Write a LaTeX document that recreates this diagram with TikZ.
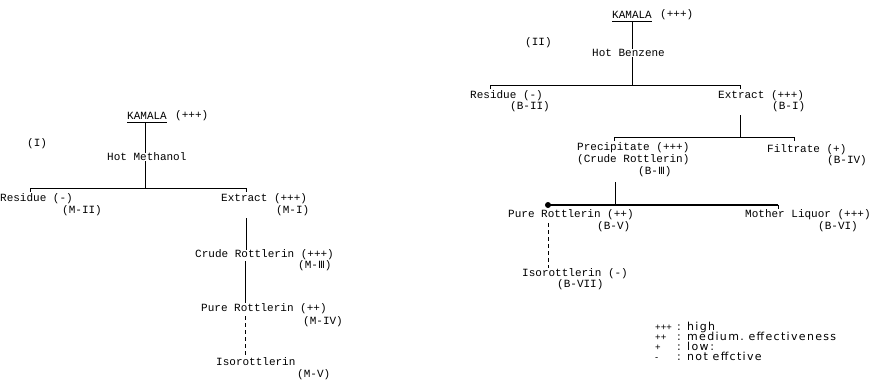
\documentclass[tikz,border=0pt]{standalone}
\usepackage{fontspec}
\setmonofont{Liberation Mono}
\newfontfamily\legf[LetterSpace=12]{DejaVu Sans}
\newfontfamily\symf{Liberation Sans}
\newfontfamily\numf{DejaVu Sans}
\newcommand{\rmIII}{{\numf\fontsize{10}{10}\selectfont Ⅲ}}
\begin{document}
\begin{tikzpicture}[x=1pt,y=-1pt,
  lbl/.style={anchor=west,inner sep=0pt,font=\ttfamily\fontsize{11}{11}\selectfont},
  leg/.style={anchor=west,inner sep=0pt,text height=6pt,text depth=1pt,font=\legf\fontsize{11}{11}\selectfont},
  legs/.style={anchor=west,inner sep=0pt,text height=6pt,text depth=1pt,font=\symf\fontsize{9.5}{9.5}\selectfont},
  conn/.style={line width=0.8pt},
  dconn/.style={line width=0.8pt,dash pattern=on 4pt off 3pt}]
\useasboundingbox (0,0) rectangle (873,386);
% ---------- (I) ----------
\node[lbl,inner ysep=3pt] (k1) at (127,116) {KAMALA};
\node[lbl] (k1p) at (175,116) {(+++)};
\node[lbl] (n1) at (27,144) {(I)};
\node[lbl] (hm) at (107,157) {Hot Methanol};
\node[lbl] (res1) at (0,199) {Residue (-)};
\node[lbl] (mii) at (62,211) {(M-II)};
\node[lbl] (ext1) at (221,199) {Extract (+++)};
\node[lbl] (mi) at (276,211) {(M-I)};
\node[lbl] (cr1) at (195,255) {Crude Rottlerin (+++)};
\node[lbl] (miii) at (298,266) {(M-\rmIII)};
\node[lbl] (pr1) at (201,309) {Pure Rottlerin (++)};
\node[lbl] (miv) at (303,322) {(M-IV)};
\node[lbl] (iso1) at (216,362) {Isorottlerin};
\node[lbl] (mv) at (297,375) {(M-V)};
\coordinate (b1l) at (30,188);
\coordinate (b1r) at (246,188);
\coordinate (b1m) at (145,188);
\draw[conn] (k1.south west) -- (k1.south east);
\draw[conn] (k1.south -| b1m) -- (hm.north -| b1m);
\draw[conn] (hm.south -| b1m) -- (b1m);
\draw[conn] ([yshift=-4pt]b1l) -- (b1l) -- (b1r) -- ([yshift=-4pt]b1r);
\draw[conn] ([yshift=-2pt]mi.south -| b1r) -- (cr1.north -| b1r);
\draw[conn] ([yshift=-1pt]cr1.south -| 245,0) -- ([yshift=1pt]pr1.north -| 245,0);
\draw[dconn] ([yshift=-2pt]pr1.south -| 245,0) -- ([yshift=1pt]iso1.north -| 245,0);
% ---------- (II) ----------
\node[lbl,inner ysep=3pt] (k2) at (612,15) {KAMALA};
\node[lbl] (k2p) at (660,15) {(+++)};
\node[lbl] (n2) at (525,43) {(II)};
\node[lbl] (hb) at (592,53) {Hot Benzene};
\node[lbl] (res2) at (470,96) {Residue (-)};
\node[lbl] (bii) at (510,107) {(B-II)};
\node[lbl] (ext2) at (718,96) {Extract (+++)};
\node[lbl] (bi) at (772,107) {(B-I)};
\node[lbl] (pre) at (577,148) {Precipitate (+++)};
\node[lbl] (crr) at (577,160) {(Crude Rottlerin)};
\node[lbl] (biii) at (638,172) {(B-\rmIII)};
\node[lbl] (fil) at (767,150) {Filtrate (+)};
\node[lbl] (biv) at (827,161) {(B-IV)};
\node[lbl] (pr2) at (508,215) {Pure Rottlerin (++)};
\node[lbl] (bv) at (597,227) {(B-V)};
\node[lbl] (ml) at (745,215) {Mother Liquor (+++)};
\node[lbl] (bvi) at (818,227) {(B-VI)};
\node[lbl] (iso2) at (522,274) {Isorottlerin (-)};
\node[lbl] (bvii) at (557,285) {(B-VII)};
\coordinate (b2l) at (490,85);
\coordinate (b2r) at (740,85);
\coordinate (b2m) at (632,85);
\coordinate (b3l) at (614,137);
\coordinate (b3r) at (794,137);
\coordinate (b3m) at (740,137);
\coordinate (b4l) at (548,205);
\coordinate (b4r) at (778,205);
\coordinate (b4m) at (615,205);
\draw[conn] (k2.south west) -- (k2.south east);
\draw[conn] (k2.south -| b2m) -- (hb.north -| b2m);
\draw[conn] (hb.south -| b2m) -- (b2m);
\draw[conn] ([yshift=-4pt]b2l) -- (b2l) -- (b2r) -- ([yshift=-4pt]b2r);
\draw[conn] ([yshift=-3pt]bi.south -| b3m) -- (b3m);
\draw[conn] ([yshift=-4pt]b3l) -- (b3l) -- (b3r) -- ([yshift=-4pt]b3r);
\draw[conn] ([yshift=-5pt]biii.south -| b4m) -- (b4m);
\draw[line width=1.4pt] (b4l) -- (b4r);
\draw[conn] (b4r) -- ([yshift=-4pt]b4r);
\fill (b4l) circle (3pt);
\draw[dconn] ([yshift=-3pt]pr2.south -| b4l) -- ([yshift=1pt]iso2.north -| b4l);
% ---------- legend ----------
\node[legs] (s1) at (655,328) {+++};
\node[leg] (c1) at (677,328) {:};
\node[leg] (t1) at (687,328) {high};
\node[legs] (s2) at (655,338) {++};
\node[leg] (c2) at (677,338) {:};
\node[leg] (t2) at (687,338) {medium.\ effectiveness};
\node[legs] (s3) at (655,348) {+};
\node[leg] (c3) at (677,348) {:};
\node[leg] (t3) at (687,348) {low\,:};
\node[legs] (s4) at (655,358) {-};
\node[leg] (c4) at (677,358) {:};
\node[leg] (t4) at (687,358) {not effctive};
\end{tikzpicture}
\end{document}
